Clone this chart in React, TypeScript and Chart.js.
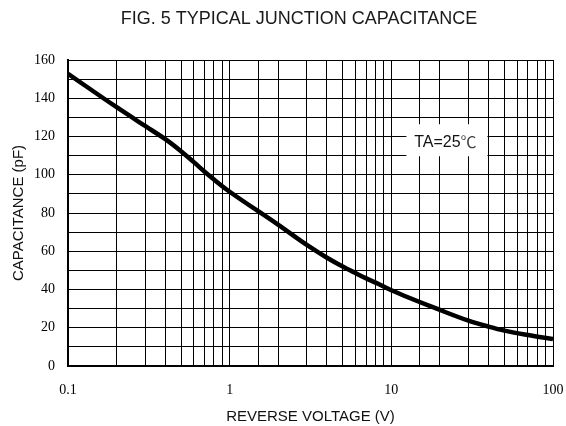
import { useEffect, useRef } from "react";
import { Chart, registerables } from "chart.js";

Chart.register(...registerables);

const voltage = [0.1, 0.2, 0.3, 0.4, 0.5, 0.6, 0.7, 0.8, 0.9, 1, 2, 3, 4, 5, 6, 7, 8, 10, 20, 30, 40, 50, 70, 100];
const capacitance = [152.8, 135.3, 125.5, 118.6, 112.3, 106.6, 101.6, 97.5, 94, 91.1, 73.8, 63.3, 56.6, 52, 48.6, 45.8, 43.6, 39.6, 29.3, 23.7, 20.6, 18.5, 16.2, 14.1];
const xTickLabels = [0.1, 1, 10, 100];
const yLabelStep = 20;
const chartTitle = "FIG. 5 TYPICAL JUNCTION CAPACITANCE";
const noteText = ["TA=25", "℃"];
const notePos = { x: 21.6, y: 117 };

const titlePlugin = {
  id: "topTitle",
  afterDraw(chart: any) {
    const { ctx } = chart;
    ctx.save();
    ctx.font = "18px 'Liberation Sans', Arial, sans-serif";
    ctx.fillStyle = "#1a1a1a";
    ctx.textAlign = "center";
    ctx.textBaseline = "middle";
    ctx.fillText(chartTitle, 299, 19);
    ctx.restore();
  },
};

const notePlugin = {
  id: "note",
  afterDatasetsDraw(chart: any) {
    const { ctx, scales } = chart;
    const cx = scales.x.getPixelForValue(notePos.x);
    const cy = scales.y.getPixelForValue(notePos.y);
    ctx.save();
    ctx.fillStyle = "#fff";
    ctx.fillRect(cx - 39, cy - 18, 81, 32);
    ctx.textBaseline = "middle";
    ctx.fillStyle = "#111";
    ctx.font = "16px 'Liberation Sans', Arial, sans-serif";
    const w1 = ctx.measureText(noteText[0]).width;
    ctx.font = "16px 'Noto Sans CJK SC', sans-serif";
    const w2 = ctx.measureText(noteText[1]).width;
    const start = cx - (w1 + w2) / 2;
    ctx.font = "16px 'Liberation Sans', Arial, sans-serif";
    ctx.textAlign = "left";
    ctx.fillText(noteText[0], start, cy);
    ctx.font = "16px 'Noto Sans CJK SC', sans-serif";
    ctx.fillStyle = "#444";
    ctx.fillText(noteText[1], start + w1, cy);
    ctx.restore();
  },
};

export default function App() {
  const ref = useRef<HTMLCanvasElement | null>(null);
  useEffect(() => {
    document.body.style.margin = "0";
    const chart = new Chart(ref.current as HTMLCanvasElement, {
      type: "line",
      data: {
        datasets: [
          {
            data: voltage.map((v, i) => ({ x: v, y: capacitance[i] })),
            borderColor: "#000",
            borderWidth: 4.5,
            pointRadius: 0,
            cubicInterpolationMode: "monotone",
            fill: false,
          },
        ],
      },
      options: {
        responsive: false,
        animation: false,
        events: [],
        layout: { padding: { left: 0, right: 13, top: 60, bottom: 0 } },
        plugins: {
          legend: { display: false },
          tooltip: { enabled: false },
          title: { display: false },
        },
        scales: {
          x: {
            type: "logarithmic",
            min: 0.1,
            max: 100,
            afterFit: (s: any) => {
              s.height = 60;
              s.paddingLeft = 0;
              s.paddingRight = 0;
            },
            border: { color: "#000", width: 2 },
            grid: { color: "#000", lineWidth: 1, drawTicks: false },
            ticks: {
              autoSkip: false,
              maxRotation: 0,
              padding: 16,
              color: "#000",
              font: { family: "'Liberation Serif', 'Times New Roman', serif", size: 14 },
              callback: (v: any) => {
                const n = Number(v);
                return xTickLabels.some((t) => Math.abs(t - n) < 1e-9) ? String(n) : "";
              },
            },
            title: {
              display: true,
              text: "REVERSE VOLTAGE (V)",
              color: "#111",
              font: { family: "'Liberation Sans', Arial, sans-serif", size: 15 },
              padding: { top: 0, bottom: 0 },
            },
          },
          y: {
            min: 0,
            max: 160,
            afterFit: (s: any) => {
              s.width = 68;
            },
            border: { color: "#000", width: 2 },
            grid: { color: "#000", lineWidth: 1, drawTicks: false },
            ticks: {
              stepSize: 10,
              autoSkip: false,
              padding: 13,
              color: "#000",
              font: { family: "'Liberation Serif', 'Times New Roman', serif", size: 14 },
              callback: (v: any) => (Number(v) % yLabelStep === 0 ? String(v) : ""),
            },
            title: {
              display: true,
              text: "CAPACITANCE (pF)",
              color: "#111",
              font: { family: "'Liberation Sans', Arial, sans-serif", size: 15 },
              padding: { top: 10, bottom: 0 },
            },
          },
        },
      },
      plugins: [notePlugin, titlePlugin],
    });
    return () => chart.destroy();
  }, []);
  return (
    <div style={{ position: "absolute", left: 0, top: 0, width: 566, height: 426, background: "#fff" }}>
      <canvas ref={ref} width={566} height={426} />
    </div>
  );
}
